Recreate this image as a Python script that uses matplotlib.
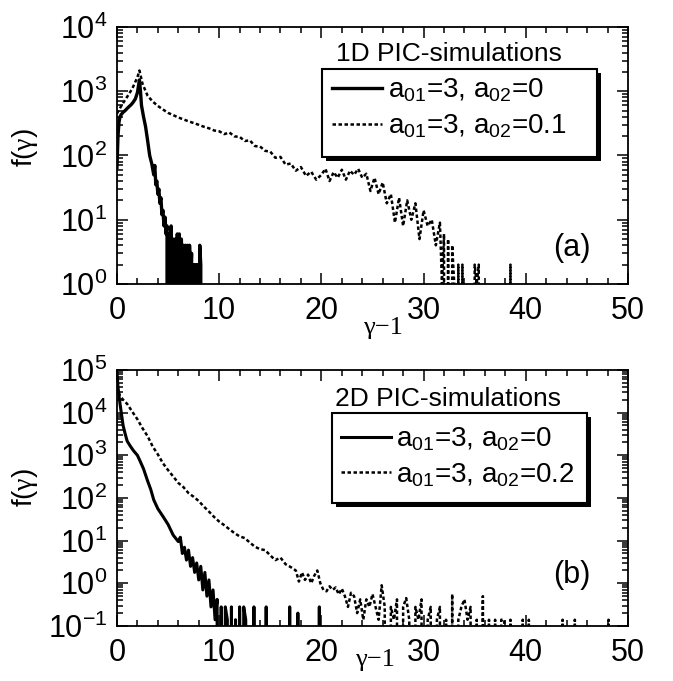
import math

import matplotlib.pyplot as plt
from matplotlib.patches import Rectangle
from matplotlib.ticker import FuncFormatter, LogLocator, MultipleLocator, NullFormatter

plt.rcParams['font.family'] = ['Liberation Sans', 'DejaVu Sans']
plt.rcParams['mathtext.fontset'] = 'custom'
plt.rcParams['mathtext.rm'] = 'Liberation Sans'
plt.rcParams['mathtext.sf'] = 'Liberation Serif'
plt.rcParams['mathtext.default'] = 'regular'

# ── (a) 1D PIC: a01=3, a02=0 ──
SIM1D_A_X = [0.0, 0.1, 0.2, 0.3, 0.4, 0.6, 0.8, 1.0, 1.2, 1.4, 1.6, 1.8, 2.0, 2.1, 2.2,
             2.3, 2.4, 2.6, 2.8, 3.0, 3.2, 3.4, 3.6, 3.7, 3.8, 3.9, 4.0, 4.1, 4.2, 4.3,
             4.4, 4.5, 4.6, 4.7, 4.8,
             4.9, 5.0, 5.1, 5.2, 5.3, 5.4, 5.5, 5.6, 5.7, 5.8, 5.9, 6.0, 6.1, 6.2, 6.3,
             6.4, 6.5, 6.6, 6.7, 6.8, 6.9, 7.0, 7.1, 7.2, 7.3, 7.4, 7.5, 7.6, 7.7, 7.8,
             7.9, 8.0, 8.1, 8.2, 8.3]
SIM1D_A_Y = [65, 200, 330, 400, 430, 470, 500, 540, 580, 620, 680, 760, 950, 1200, 1500,
             1000, 600, 400, 280, 170, 100, 75, 50, 70, 35, 40, 25, 30, 18, 22,
             12, 14, 8, 11, 6,
             8, 0, 6, 2, 8, 0, 5, 1, 5, 0, 6, 2, 6, 0, 5,
             1, 4, 0, 4, 2, 4, 0, 4, 1, 3, 0, 2, 1, 2, 0,
             2, 0, 4, 2, 0]

# ── (a) 1D PIC: a01=3, a02=0.1 ──
SIM1D_B_X = [0.0, 0.5, 1.0, 1.5, 2.0, 2.2, 2.5, 3.0, 3.5, 4.0, 4.5, 5.0, 5.5, 6.0, 6.5,
             7.0, 7.5, 8.0, 8.5, 9.0, 9.5, 10.0, 10.5, 11.0, 11.5, 12.0, 12.5, 13.0,
             13.5, 14.0, 14.5, 15.0, 15.5, 16.0, 16.5, 17.0, 17.5, 18.0, 18.5, 19.0,
             19.5, 20.0, 20.4, 20.8, 21.2, 21.6, 22.0, 22.4, 22.8, 23.2, 23.6, 24.0,
             24.4, 24.8, 25.2, 25.6, 26.0, 26.4, 26.8, 27.2, 27.6, 28.0, 28.4, 28.8,
             29.2, 29.6, 30.0, 30.4, 30.8, 31.2, 31.6, 31.8, 32.0, 32.2, 32.4, 32.6,
             32.8, 33.0, 33.2, 33.4, 33.6, 33.8, 34.0, 34.8, 35.0, 35.2, 35.4, 35.6,
             38.3, 38.5, 38.7]
SIM1D_B_Y = [450, 620, 820, 1100, 1650, 2100, 1300, 850, 690, 590, 520, 460, 425, 390, 365,
             340, 320, 300, 280, 265, 245, 238, 215, 228, 198, 195, 168, 172,
             140, 138, 118, 115, 92, 95, 72, 75, 58, 66, 48, 56,
             42, 50, 62, 40, 55, 45, 60, 42, 58, 50, 62, 45,
             52, 28, 45, 25, 38, 18, 25, 9, 22, 8, 20, 10,
             18, 5, 14, 8, 10, 4, 9, 1, 6, 0, 5, 0,
             4, 1, 0, 2, 0, 2, 0, 0, 2, 1, 2, 0,
             0, 2, 0]

# ── (b) 2D PIC: a01=3, a02=0 ──
SIM2D_A_X = [0.0, 0.1, 0.2, 0.3, 0.45, 0.6, 0.8, 1.0, 1.3, 1.6, 2.0, 2.3, 2.6, 3.0, 3.3,
             3.6, 4.0, 4.5, 5.0, 5.5, 6.0, 6.2, 6.4, 6.6, 6.8, 7.0, 7.2, 7.4, 7.6, 7.8,
             8.0, 8.2, 8.4, 8.6, 8.8, 9.0, 9.2, 9.4, 9.6, 9.8, 10.0, 10.2, 10.4, 10.6,
             10.8, 11.0, 11.2, 11.4, 11.6, 11.8, 12.0, 12.2, 12.4, 12.6, 12.8, 13.2,
             13.4, 13.6, 14.4, 14.6, 14.8, 16.7, 16.9, 17.1, 17.5, 17.7, 17.9, 19.6,
             19.8, 20.0]
SIM2D_A_Y = [89000, 40000, 25000, 16000, 9000, 5000, 3200, 2150, 1650, 1300, 1000, 700,
             480, 250, 160, 90, 56, 37, 24, 13.5, 9.5, 12, 5, 7, 3.5, 6, 2.5, 4, 1.8, 3,
             1.2, 2.5, 0.7, 1.8, 0.5, 1.2, 0.28, 0.7, 0.14, 0.42, 0, 0.28, 0, 0.28,
             0.14, 0, 0.28, 0, 0.14, 0, 0.28, 0, 0.28, 0.14, 0, 0,
             0.28, 0, 0, 0.28, 0, 0, 0.28, 0, 0, 0.2, 0, 0,
             0.28, 0]

# ── (b) 2D PIC: a01=3, a02=0.2 ──
SIM2D_B_X = [0.0, 0.1, 0.3, 0.6, 1.0, 1.5, 2.0, 2.5, 3.0, 3.5, 4.0, 4.5, 5.0, 5.5, 6.0,
             6.5, 7.0, 7.5, 8.0, 8.5, 9.0, 9.5, 10.0, 10.5, 11.0, 11.5, 12.0, 12.5,
             13.0, 13.5, 14.0, 14.5, 15.0, 15.5, 16.0, 16.5, 17.0, 17.5, 17.8, 18.1,
             18.4, 18.7, 19.0, 19.3, 19.6, 19.9, 20.2, 20.5, 20.8, 21.1, 21.4, 21.7,
             22.0, 22.3, 22.6, 22.9, 23.2, 23.5, 23.8, 24.1, 24.4, 24.7, 25.0, 25.3,
             25.6, 25.9, 26.2, 26.5, 26.8, 27.1, 27.4, 27.7, 28.0, 28.3, 28.6, 28.9,
             29.2, 29.5, 29.8, 30.1, 30.4, 30.7, 31.0, 31.3, 31.6, 31.9, 32.2, 32.5,
             32.8, 33.1, 33.4, 33.7, 34.0, 34.3, 34.6, 34.9, 35.2, 35.5, 35.8, 36.1,
             36.4, 36.7, 37.0, 37.3, 37.6, 37.9, 38.2, 38.5, 38.8, 39.4, 39.7, 40.0,
             40.3, 40.6, 43.3, 43.6, 43.9, 44.5, 44.8, 45.1, 47.8, 48.1, 48.4]
SIM2D_B_Y = [40000, 32000, 25000, 20000, 16000, 10500, 7000, 4300, 2800, 1600, 1050, 650,
             450, 320, 225, 180, 130, 107, 85, 63, 48, 36, 28, 23, 18.5, 15, 12.6, 11.5,
             9, 7.2, 6.3, 6, 4.5, 3.5, 4, 2.8, 2.4, 2, 1.1, 1.8,
             1.2, 1.6, 1.0, 1.5, 2.0, 1.0, 0.7, 0.65, 0.85, 0.7, 0.8, 0.55,
             0.75, 0.5, 0.28, 0.6, 0.5, 0.2, 0.42, 0.14, 0.42, 0.28, 0.56, 0.28,
             0.14, 0.9, 0.28, 0, 0.28, 0.14, 0.42, 0, 0.28, 0.45, 0.14, 0,
             0.28, 0.14, 0.42, 0, 0.14, 0.28, 0, 0.14, 0.28, 0, 0.14, 0,
             0.56, 0, 0.14, 0.28, 0.42, 0.14, 0.28, 0, 0.14, 0, 0.5, 0,
             0.14, 0, 0.14, 0, 0.14, 0.14, 0, 0.14, 0, 0, 0.14, 0,
             0.14, 0, 0, 0.14, 0, 0, 0.14, 0, 0, 0.14, 0]

LABEL_A = r'a$_{01}$=3, a$_{02}$=0'
LABEL_1D = r'a$_{01}$=3, a$_{02}$=0.1'
LABEL_2D = r'a$_{01}$=3, a$_{02}$=0.2'

DOT = (0, (1.4, 1.0))


def style_axis(ax, ymin, ymax):
    ax.set_yscale('log')
    ax.set_xlim(0, 50)
    ax.set_ylim(ymin, ymax)
    ax.xaxis.set_major_locator(MultipleLocator(10))
    ax.xaxis.set_minor_locator(MultipleLocator(2))
    ax.yaxis.set_major_locator(LogLocator(base=10, numticks=20))
    ax.yaxis.set_minor_locator(LogLocator(base=10, subs=range(2, 10), numticks=20))
    ax.yaxis.set_minor_formatter(NullFormatter())
    ax.yaxis.set_major_formatter(
        FuncFormatter(lambda v, p: r'$\mathregular{10^{%d}}$' % round(math.log10(v))))
    ax.tick_params(which='both', direction='in', top=True, right=True, width=1.1)
    ax.tick_params(which='major', length=8, labelsize=22)
    ax.tick_params(which='minor', length=4.5)
    ax.tick_params(axis='x', pad=9)
    ax.tick_params(axis='y', pad=7)
    for s in ax.spines.values():
        s.set_linewidth(1.3)
    ax.set_ylabel(r'f($\mathsf{\gamma}$)', fontsize=20)
    ax.set_xlabel('γ\u22121', fontsize=19, family=['Liberation Serif', 'DejaVu Serif'])


def boxed_legend(ax, box, anchor):
    # box = (left, bottom, right, top) in axes fraction; black drop shadow like the original
    x0, y0, x1, y1 = box
    inv = ax.transAxes.inverted()
    px = inv.transform([(4, -4)])[0] - inv.transform([(0, 0)])[0]
    ax.add_patch(Rectangle((x0 + px[0], y0 + px[1]), x1 - x0, y1 - y0, transform=ax.transAxes,
                           facecolor='k', edgecolor='k', lw=0, zorder=6, clip_on=False))
    ax.add_patch(Rectangle((x0, y0), x1 - x0, y1 - y0, transform=ax.transAxes,
                           facecolor='white', edgecolor='k', lw=1.5, zorder=7, clip_on=False))
    leg = ax.legend(loc='center left', bbox_to_anchor=anchor, frameon=False, borderpad=0,
                    borderaxespad=0, fontsize=20, handlelength=1.8, handletextpad=0.2,
                    labelspacing=0.3)
    leg.set_zorder(8)
    return leg


fig = plt.figure(figsize=(6.73, 6.81), dpi=100)
ax1 = fig.add_axes([0.1738, 0.583, 0.7593, 0.3774])
ax2 = fig.add_axes([0.1738, 0.0808, 0.7593, 0.3759])

# (a)
ax1.plot(SIM1D_A_X, SIM1D_A_Y, color='k', lw=2.4, label=LABEL_A)
ax1.plot(SIM1D_B_X, SIM1D_B_Y, color='k', lw=1.8, ls=DOT, label=LABEL_1D)
style_axis(ax1, 1, 1e4)
ax1.xaxis.set_label_coords(0.52, -0.13)
ax1.yaxis.set_label_coords(-0.15, 0.53)
ax1.text(0.65, 0.895, '1D PIC-simulations', transform=ax1.transAxes,
         ha='center', va='center', fontsize=19)
ax1.text(0.89, 0.14, '(a)', transform=ax1.transAxes, ha='center', va='center', fontsize=22)
boxed_legend(ax1, (0.401, 0.494, 0.939, 0.837), (0.421, 0.683))

# (b)
ax2.plot(SIM2D_A_X, SIM2D_A_Y, color='k', lw=2.2, label=LABEL_A)
ax2.plot(SIM2D_B_X, SIM2D_B_Y, color='k', lw=1.8, ls=DOT, label=LABEL_2D)
style_axis(ax2, 0.1, 1e5)
ax2.xaxis.set_label_coords(0.505, -0.09)
ax2.yaxis.set_label_coords(-0.15, 0.54)
ax2.text(0.647, 0.885, '2D PIC-simulations', transform=ax2.transAxes,
         ha='center', va='center', fontsize=19)
ax2.text(0.89, 0.2, '(b)', transform=ax2.transAxes, ha='center', va='center', fontsize=22)
boxed_legend(ax2, (0.421, 0.48, 0.92, 0.832), (0.438, 0.66))

fig.savefig('out.png', dpi=100)
